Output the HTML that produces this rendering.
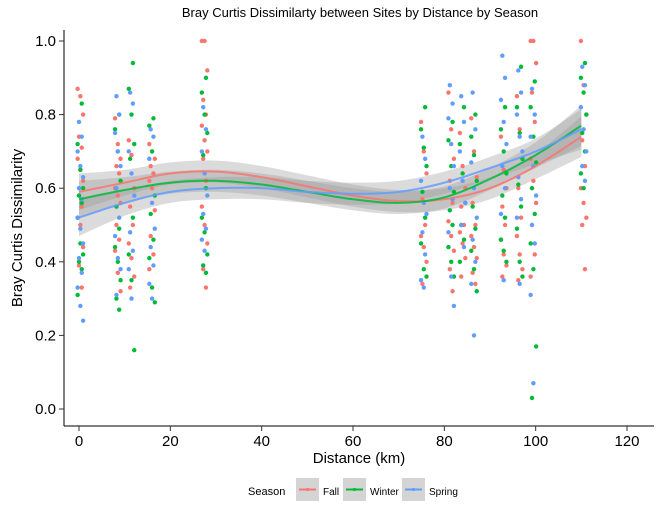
<!DOCTYPE html>
<html><head><meta charset="utf-8"><style>
body{margin:0;background:#fff;font-family:"Liberation Sans",Arial,sans-serif}
svg text{font-family:"Liberation Sans",Arial,sans-serif}
</style></head><body>
<svg id="chart" width="660" height="520" xmlns="http://www.w3.org/2000/svg">
<rect width="660" height="520" fill="#fff"/>
<text x="360" y="17" text-anchor="middle" font-size="13">Bray Curtis Dissimilarty between Sites by Distance by Season</text>
<g id="ribbons"></g>
<g id="points"></g>
<g id="lines"></g>
<g id="axes"></g>
<text x="359" y="463" text-anchor="middle" font-size="15">Distance (km)</text>
<text transform="translate(22,228) rotate(-90)" text-anchor="middle" font-size="15">Bray Curtis Dissimilarity</text>
<g>
<text x="248" y="495" font-size="11">Season</text>
<g><rect x="296" y="478" width="23" height="23" fill="#d4d4d4"/><line x1="299" y1="489.5" x2="316" y2="489.5" stroke="#F8766D" stroke-width="2"/><circle cx="307.5" cy="489.5" r="1.6" fill="#F8766D"/><text x="323" y="495" font-size="10">Fall</text></g>
<g><rect x="343" y="478" width="23" height="23" fill="#d4d4d4"/><line x1="346" y1="489.5" x2="363" y2="489.5" stroke="#00BA38" stroke-width="2"/><circle cx="354.5" cy="489.5" r="1.6" fill="#00BA38"/><text x="370" y="495" font-size="10">Winter</text></g>
<g><rect x="402" y="478" width="23" height="23" fill="#d4d4d4"/><line x1="405" y1="489.5" x2="422" y2="489.5" stroke="#619CFF" stroke-width="2"/><circle cx="413.5" cy="489.5" r="1.6" fill="#619CFF"/><text x="429" y="495" font-size="10">Spring</text></g>
</g>
</svg>
<script>
const clusterDist=[0.3,8.5,11.5,16,27.5,75.5,81.5,84,86.5,93,96.5,99.5,110.5];
const fallVals=[[.87,.85,.8,.74,.71,.68,.65,.62,.58,.55,.52,.5,.44,.39,.33],[.79,.72,.68,.66,.64,.6,.58,.56,.5,.46,.43,.37,.32],[.73,.69,.6,.55,.5,.45,.41,.36,.33],[.72,.7,.68,.66,.64,.62,.6,.54,.47,.42,.38],[1,1,.92,.84,.8,.77,.73,.7,.68,.62,.55,.5,.45,.38,.33],[.78,.7,.64,.57,.5,.47,.44,.4,.34],[.86,.76,.68,.62,.56,.51,.47,.43,.38,.32],[.75,.66,.6,.55,.5,.48,.45,.41,.36],[.79,.7,.63,.56,.5,.47,.44,.41,.37,.34],[.74,.65,.6,.55,.5,.46,.42,.39,.36],[.85,.76,.68,.6,.52,.47,.42,.38,.35],[1,1,.94,.86,.78,.68,.62,.56,.5,.42,.36],[1,.88,.8,.73,.66,.6,.56,.52,.5,.38]];
const winterVals=[[.83,.72,.65,.6,.58,.56,.52,.45,.42,.4,.38,.31],[.8,.76,.7,.62,.55,.49,.44,.4,.35,.3,.27],[.94,.87,.8,.72,.68,.52,.42,.35,.16],[.79,.77,.7,.58,.53,.46,.41,.33,.29],[.9,.86,.8,.75,.69,.6,.52,.48,.42,.39,.37],[.82,.76,.71,.66,.59,.52,.45,.38,.36],[.78,.73,.66,.59,.54,.5,.44,.4,.36],[.82,.72,.64,.56,.5,.46,.4],[.8,.74,.69,.62,.55,.49,.43,.38,.32],[.82,.76,.7,.64,.58,.52,.46,.43,.4],[.93,.82,.75,.68,.61,.55,.49,.4,.36],[.89,.82,.74,.67,.6,.53,.45,.38,.17,.03],[.94,.9,.86,.8,.75,.7,.64,.6]];
const springVals=[[.78,.74,.7,.66,.63,.6,.57,.52,.49,.45,.41,.37,.33,.28,.24],[.85,.8,.75,.7,.66,.6,.52,.47,.41,.38,.31],[.86,.83,.7,.64,.58,.48,.43,.38,.3],[.76,.74,.68,.56,.49,.44,.39,.34,.3],[.82,.76,.7,.64,.58,.53,.49,.46,.43],[.74,.68,.62,.56,.53,.48,.42,.35,.33],[.88,.83,.79,.72,.66,.6,.57,.48,.36,.28],[.85,.78,.7,.62,.56,.5,.44],[.86,.76,.67,.6,.52,.46,.4,.34,.2],[.96,.9,.84,.78,.72,.66,.6,.53,.35],[.92,.86,.8,.74,.7,.63,.57,.52,.34],[.87,.8,.74,.66,.58,.5,.45,.31,.07],[.93,.88,.82,.76,.7,.66,.62]];
const smoothX=[0,10,20,30,40,50,60,70,80,90,100,110];
const fallSmooth=[.59,.615,.64,.645,.63,.605,.58,.565,.57,.6,.66,.74];
const winterSmooth=[.57,.595,.615,.62,.61,.59,.57,.56,.575,.625,.69,.77];
const springSmooth=[.52,.56,.59,.6,.6,.59,.585,.59,.615,.655,.7,.76];
const smoothSE=[.05,.035,.03,.03,.03,.03,.03,.03,.03,.03,.035,.055];
const xTicks=[0,20,40,60,80,100,120];
const yTicks=[0,0.2,0.4,0.6,0.8,1.0];

const NS="http://www.w3.org/2000/svg";
const X=d=>79+d*(548/120);
const Y=v=>409-v*368;
function mk(tag,attrs,parent){const e=document.createElementNS(NS,tag);for(const k in attrs)e.setAttribute(k,attrs[k]);parent.appendChild(e);return e;}
function smoothPts(xs,ys){ // catmull-rom densified
  const out=[];
  for(let i=0;i<xs.length-1;i++){
    const p0=i?i-1:i,p3=i+2<xs.length?i+2:i+1;
    for(let s=0;s<10;s++){const t=s/10,t2=t*t,t3=t2*t;
      const f=(a,b,c,d)=>0.5*(2*b+(-a+c)*t+(2*a-5*b+4*c-d)*t2+(-a+3*b-3*c+d)*t3);
      out.push([f(xs[p0],xs[i],xs[i+1],xs[p3]),f(ys[p0],ys[i],ys[i+1],ys[p3])]);}
  }
  out.push([xs[xs.length-1],ys[ys.length-1]]);return out;
}
const series=[["fall",fallVals,fallSmooth,"#F8766D"],["winter",winterVals,winterSmooth,"#00BA38"],["spring",springVals,springSmooth,"#619CFF"]];
const rib=document.getElementById('ribbons'),pts=document.getElementById('points'),lns=document.getElementById('lines'),ax=document.getElementById('axes');
series.forEach(([name,vals,sm,col])=>{
  const u=smoothPts(smoothX,sm.map((v,i)=>v+smoothSE[i])),l=smoothPts(smoothX,sm.map((v,i)=>v-smoothSE[i]));
  const s=u.map(p=>X(p[0])+','+Y(p[1])).join(' ')+' '+l.reverse().map(p=>X(p[0])+','+Y(p[1])).join(' ');
  const r=mk('polygon',{points:s,fill:'#999','fill-opacity':0.35},rib);
  
  
});
series.forEach(([name,vals,sm,col],si)=>{
  vals.forEach((arr,ci)=>{arr.forEach((v,j)=>{
    const off=((j*7+si*3)%5-2)*0.3;
    const c=mk('circle',{cx:X(clusterDist[ci]+off),cy:Y(v),r:2.2,fill:col},pts);
    
    
  });});
});
series.forEach(([name,vals,sm,col])=>{
  const d=smoothPts(smoothX,sm).map((p,i)=>(i?'L':'M')+X(p[0]).toFixed(1)+','+Y(p[1]).toFixed(1)).join(' ');
  const p=mk('path',{d:d,fill:'none',stroke:col,'stroke-width':2,'stroke-opacity':0.85},lns);
  
  
});
mk('line',{x1:64,y1:30,x2:64,y2:426,stroke:'#000','stroke-width':1},ax);
mk('line',{x1:64,y1:426,x2:654,y2:426,stroke:'#000','stroke-width':1},ax);
xTicks.forEach(t=>{mk('line',{x1:X(t),y1:426,x2:X(t),y2:431,stroke:'#333'},ax);
  const tx=mk('text',{x:X(t),y:446,'text-anchor':'middle','font-size':15,fill:'#000'},ax);tx.textContent=t;
  
  });
yTicks.forEach(t=>{mk('line',{x1:59,y1:Y(t),x2:64,y2:Y(t),stroke:'#333'},ax);
  const tx=mk('text',{x:56,y:Y(t)+5,'text-anchor':'end','font-size':15,fill:'#000'},ax);tx.textContent=t.toFixed(1);
  
  });
</script>
</body></html>
